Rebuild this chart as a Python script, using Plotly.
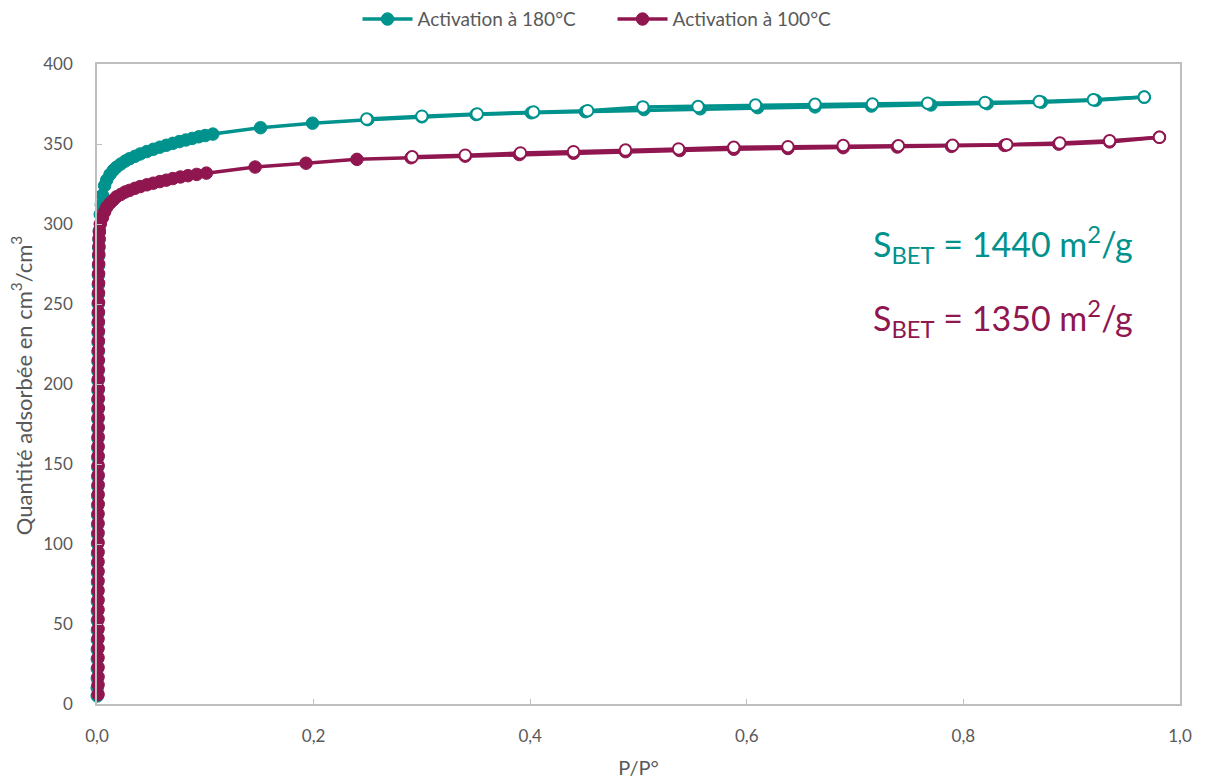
import plotly.graph_objects as go

TEAL = "#00928C"
MAROON = "#901650"
FONT = "Lato, 'Open Sans', sans-serif"

# --- Activation à 180°C : adsorption (filled markers) ---
teal_ads_p = [0.0002, 0.0002, 0.0003, 0.0003, 0.0003, 0.0003, 0.0004, 0.0004, 0.0004, 0.0004,
              0.0004, 0.0005, 0.0005, 0.0005, 0.0005, 0.0005, 0.0005, 0.0006, 0.0006, 0.0006,
              0.0006, 0.0006, 0.0007, 0.0007, 0.0007, 0.0007, 0.0007, 0.0008, 0.0008, 0.0008,
              0.0008, 0.0008, 0.0009, 0.0009, 0.0009, 0.0009, 0.0010, 0.0010, 0.0010, 0.0010,
              0.0011, 0.0011, 0.0012, 0.0012, 0.0013, 0.0014, 0.0015, 0.0017, 0.0019, 0.0022,
              0.0030, 0.0040, 0.0050, 0.0070, 0.0090, 0.0120, 0.0150, 0.0180, 0.0220, 0.0260,
              0.0300, 0.0350, 0.0400, 0.0460, 0.0520, 0.0580, 0.0640, 0.0700, 0.0760, 0.0820,
              0.0880, 0.0940, 0.1000, 0.1070, 0.1510, 0.1990, 0.2500, 0.3000, 0.3500, 0.4010,
              0.4510, 0.5050, 0.5570, 0.6100, 0.6630, 0.7150, 0.7700, 0.8220, 0.8720, 0.9220,
              0.9670]
teal_ads_v = [5, 10, 16, 22, 28, 34, 40, 46, 52, 58,
              64, 70, 76, 82, 88, 94, 100, 106, 112, 118,
              124, 130, 136, 142, 148, 154, 160, 166, 172, 178,
              184, 190, 196, 202, 208, 214, 220, 226, 232, 238,
              244, 250, 256, 262, 268, 274, 280, 285, 290, 296,
              306, 312, 318, 324, 327.5, 331, 333.5, 335.5, 337.5, 339.3,
              340.8, 342.3, 343.8, 345.3, 346.7, 348, 349.2, 350.4, 351.5, 352.5,
              353.5, 354.5, 355.3, 356.2, 360.2, 363.0, 365.2, 367.0, 368.4, 369.5,
              370.2, 371.5, 372.0, 372.7, 373.2, 373.7, 374.4, 375.2, 376.1, 377.3,
              379.3]

# --- Activation à 180°C : desorption (open markers) ---
teal_des_p = [0.967, 0.920, 0.870, 0.820, 0.767, 0.716, 0.663, 0.608, 0.555, 0.504,
              0.453, 0.403, 0.351, 0.300, 0.249]
teal_des_v = [379.3, 377.6, 376.5, 376.0, 375.5, 375.0, 374.8, 374.3, 373.4, 373.2,
              370.8, 370.0, 368.8, 367.4, 365.6]

# --- Activation à 100°C : adsorption (filled markers) ---
mar_ads_p = [0.0010, 0.0010, 0.0010, 0.0010, 0.0010, 0.0010, 0.0010, 0.0010, 0.0010, 0.0010,
             0.0010, 0.0010, 0.0010, 0.0010, 0.0010, 0.0010, 0.0010, 0.0010, 0.0010, 0.0010,
             0.0011, 0.0011, 0.0011, 0.0011, 0.0011, 0.0011, 0.0011, 0.0011, 0.0011, 0.0011,
             0.0012, 0.0012, 0.0012, 0.0012, 0.0012, 0.0012, 0.0012, 0.0013, 0.0013, 0.0013,
             0.0013, 0.0014, 0.0014, 0.0015, 0.0015, 0.0016, 0.0017, 0.0018, 0.0019, 0.0022,
             0.0030, 0.0050, 0.0070, 0.0090, 0.0120, 0.0150, 0.0180, 0.0220, 0.0260, 0.0300,
             0.0350, 0.0400, 0.0460, 0.0520, 0.0580, 0.0640, 0.0700, 0.0770, 0.0840, 0.0920,
             0.1010, 0.1460, 0.1930, 0.2400, 0.2900, 0.3400, 0.3900, 0.4400, 0.4880, 0.5380,
             0.5880, 0.6380, 0.6890, 0.7390, 0.7890, 0.8380, 0.8880, 0.9350, 0.9810]
mar_ads_v = [6, 12, 17, 23, 29, 35, 41, 47, 53, 59,
             65, 71, 77, 83, 89, 95, 101, 107, 113, 119,
             125, 131, 137, 143, 149, 155, 161, 167, 173, 179,
             185, 191, 197, 203, 209, 215, 221, 227, 233, 239,
             245, 251, 257, 263, 269, 275, 281, 286, 291, 295,
             300, 304, 307.5, 310.5, 313, 315, 317, 318.5, 320, 321,
             322.3, 323.4, 324.5, 325.5, 326.5, 327.4, 328.4, 329.4, 330.2, 331.0,
             331.8, 335.6, 338.0, 340.4, 341.4, 342.4, 343.4, 344.2, 345.2, 345.9,
             346.7, 347.2, 347.7, 348.1, 348.5, 349.1, 349.9, 351.3, 354.2]

# --- Activation à 100°C : desorption (open markers) ---
mar_des_p = [0.981, 0.935, 0.889, 0.840, 0.790, 0.740, 0.689, 0.638, 0.588, 0.537,
             0.488, 0.440, 0.391, 0.340, 0.291]
mar_des_v = [354.2, 352.0, 350.6, 349.6, 349.2, 348.9, 349.0, 348.3, 347.9, 346.9,
             346.2, 345.2, 344.4, 343.0, 342.0]

x_ticks = [0, 0.2, 0.4, 0.6, 0.8, 1.0]
y_ticks = [0, 50, 100, 150, 200, 250, 300, 350, 400]

fig = go.Figure()

def add_series(p_ads, v_ads, p_des, v_des, color, name):
    fig.add_trace(go.Scatter(
        x=p_ads, y=v_ads, mode="lines+markers", name=name, cliponaxis=False,
        line=dict(color=color, width=3.5),
        marker=dict(size=12.5, color=color, line=dict(color=color, width=1)),
    ))
    fig.add_trace(go.Scatter(
        x=p_des, y=v_des, mode="lines+markers", name=name, showlegend=False,
        cliponaxis=False,
        line=dict(color=color, width=3.5),
        marker=dict(size=11.5, color="white", line=dict(color=color, width=2)),
    ))

add_series(teal_ads_p, teal_ads_v, teal_des_p, teal_des_v, TEAL, "Activation à 180°C")
add_series(mar_ads_p, mar_ads_v, mar_des_p, mar_des_v, MAROON, "Activation à 100°C")

axis_common = dict(
    showgrid=False, zeroline=False, showline=True, linecolor="#BFBFBF", linewidth=1.5,
    mirror=True, ticks="inside", ticklen=5, tickcolor="#BFBFBF",
    tickfont=dict(family=FONT, size=17, color="#595959"),
)

fig.update_xaxes(range=[0, 1.0], tickvals=x_ticks, tickformat=".1f",
                 ticklabelstandoff=16,
                 title=dict(text="P/P°", font=dict(family=FONT, size=20, color="#595959"),
                            standoff=16),
                 **axis_common)
fig.update_yaxes(range=[0, 400], tickvals=y_ticks, ticklabelstandoff=19,
                 **axis_common)

# y-axis title as a rotated annotation
fig.add_annotation(x=-0.069, y=0.497, xref="paper", yref="paper",
                   xanchor="center", yanchor="middle", textangle=-90, showarrow=False,
                   text="Quantité adsorbée en cm<sup>3</sup>/cm<sup>3</sup>",
                   font=dict(family=FONT, size=22, color="#595959"))

fig.add_annotation(x=0.715, y=287, xref="x", yref="y", xanchor="left", yanchor="middle",
                   text="S<sub>BET</sub> = 1440 m<sup>2</sup>/g", showarrow=False,
                   font=dict(family=FONT, size=34, color=TEAL))
fig.add_annotation(x=0.715, y=241, xref="x", yref="y", xanchor="left", yanchor="middle",
                   text="S<sub>BET</sub> = 1350 m<sup>2</sup>/g", showarrow=False,
                   font=dict(family=FONT, size=34, color=MAROON))

# page body has an 8px margin: shift the figure accordingly
fig.update_layout(
    width=1197, height=775,
    margin=dict(l=89, r=25, t=56, b=79, autoexpand=False),
    plot_bgcolor="white", paper_bgcolor="white",
    separators=", ",
    legend=dict(orientation="h", x=0.292, xref="container", xanchor="left",
                y=1.07, yref="paper", yanchor="middle",
                font=dict(family=FONT, size=19, color="#595959"),
                itemwidth=50, entrywidth=190, entrywidthmode="pixels"),
)

fig.write_html("out.html")
